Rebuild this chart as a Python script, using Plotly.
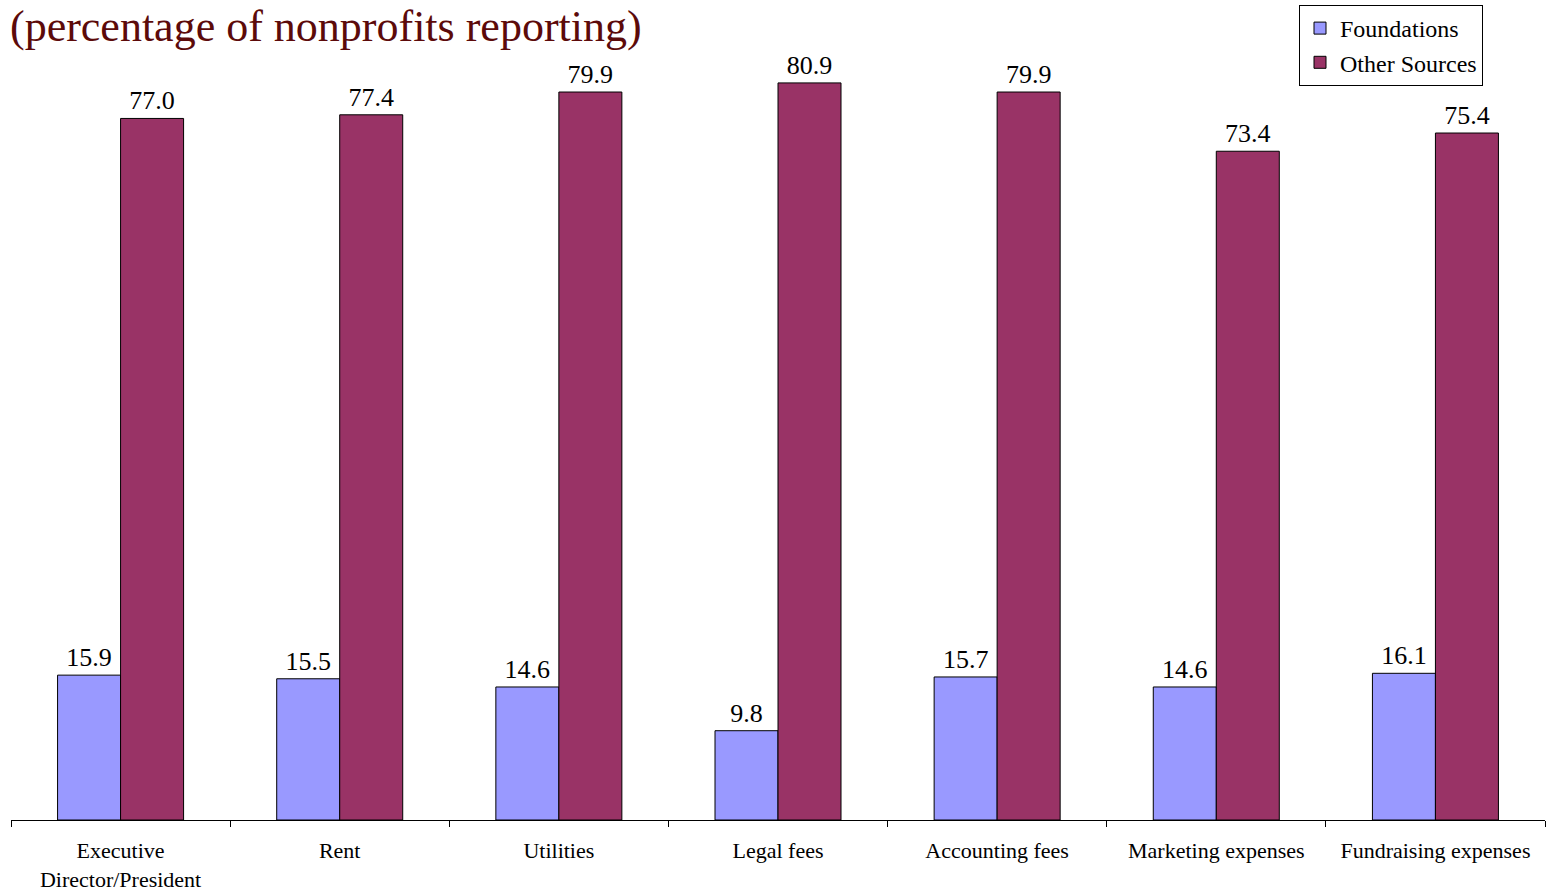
import plotly.graph_objects as go

categories = ["Executive<br>Director/President", "Rent", "Utilities", "Legal fees",
              "Accounting fees", "Marketing expenses", "Fundraising expenses"]
foundations = [15.9, 15.5, 14.6, 9.8, 15.7, 14.6, 16.1]
other_sources = [77.0, 77.4, 79.9, 80.9, 79.9, 73.4, 75.4]

serif = "Liberation Serif, Times New Roman, serif"

fig = go.Figure()
fig.add_trace(go.Bar(
    x=categories, y=foundations, name="Foundations",
    marker=dict(color="#9999FF", line=dict(color="#000000", width=1)),
    text=[f"{v:.1f}" for v in foundations], textposition="outside",
    textfont=dict(family=serif, size=26, color="#000000"), cliponaxis=False,
))
fig.add_trace(go.Bar(
    x=categories, y=other_sources, name="Other Sources",
    marker=dict(color="#993366", line=dict(color="#000000", width=1)),
    text=[f"{v:.1f}" for v in other_sources], textposition="outside",
    textfont=dict(family=serif, size=26, color="#000000"), cliponaxis=False,
))

fig.update_layout(
    width=1548, height=891,
    margin=dict(l=11, r=3, t=0, b=71, autoexpand=False),
    paper_bgcolor="white", plot_bgcolor="white",
    barmode="group", bargap=0.425, bargroupgap=0,
    showlegend=True,
    legend=dict(
        x=1299 / 1548, y=1 - 5 / 891, xref="container", yref="container",
        xanchor="left", yanchor="top",
        bgcolor="white", bordercolor="#000000", borderwidth=1,
        font=dict(family=serif, size=24, color="#000000"),
        itemwidth=30, tracegroupgap=0,
    ),
    xaxis=dict(
        showline=True, linecolor="#000000", linewidth=1,
        ticks="outside", tickson="boundaries", ticklen=6, tickcolor="#000000",
        ticklabelstandoff=11,
        tickfont=dict(family=serif, size=22, color="#000000"),
        showgrid=False, zeroline=False,
    ),
    yaxis=dict(range=[0, 90], visible=False, showgrid=False, zeroline=False),
    annotations=[dict(
        text="(percentage of nonprofits reporting)",
        xref="paper", yref="paper", x=-3 / 1534, y=1,
        xanchor="left", yanchor="top", yshift=0, showarrow=False,
        font=dict(family=serif, size=44, color="#5C0A0A"),
    )],
)

fig.write_html("out.html")
